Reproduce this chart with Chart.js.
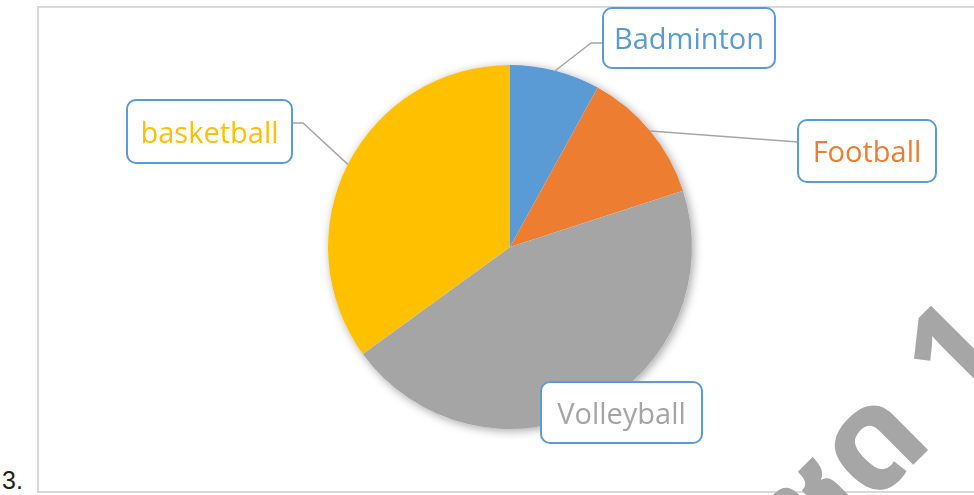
<!DOCTYPE html>
<html>
<head>
<meta charset="utf-8">
<script src="https://cdn.jsdelivr.net/npm/chart.js@4.4.1/dist/chart.umd.min.js"></script>
<style>
  html, body { margin: 0; padding: 0; background: #fff; }
  body { width: 974px; height: 495px; position: relative; overflow: hidden; }
  #frame { position: absolute; left: 37px; top: 6px; width: 960px; height: 483px; border: 2px solid #d9d9d9; }
  #num { position: absolute; left: 2px; top: 468px; font: 25px "Liberation Sans", sans-serif; color: #222; line-height: 25px; }
  #sportChart { position: absolute; left: 0; top: 0; }
</style>
</head>
<body>
<div id="frame"></div>
<div id="num">3.</div>
<canvas id="sportChart" width="974" height="495"></canvas>
<script>
// data (percent share)
const categories = ["Badminton", "Football", "Volleyball", "basketball"];
const shares = [8, 12, 45, 35];
const sliceColors = ["#5b9bd5", "#ed7d31", "#a5a5a5", "#ffc000"];

// callout boxes (layout only)
const calloutBoxes = [
    { x: 603, y: 8, w: 172, h: 60, leader: [[591, 43], [603, 43]] },
    { x: 798, y: 120, w: 138, h: 62, leader: [[798, 142]] },
    { x: 541, y: 382, w: 161, h: 61, leader: null },
    { x: 127, y: 100, w: 165, h: 63, leader: [[303, 123], [292, 123]] }
];

// soft shadow under the pie
const pieShadow = {
    id: "pieShadow",
    beforeDatasetsDraw(chart) {
        const arc = chart.getDatasetMeta(0).data[0];
        const ctx = chart.ctx;
        ctx.save();
        ctx.shadowColor = "rgba(0,0,0,0.35)";
        ctx.shadowBlur = 10;
        ctx.shadowOffsetX = 2;
        ctx.shadowOffsetY = 2;
        ctx.fillStyle = "#fff";
        ctx.beginPath();
        ctx.arc(arc.x, arc.y, arc.outerRadius, 0, Math.PI * 2);
        ctx.fill();
        ctx.restore();
    }
};

// ================= CALLOUT LABELS =================
const callouts = {
    id: "callouts",
    afterDatasetsDraw(chart) {
        const ctx = chart.ctx;
        const meta = chart.getDatasetMeta(0);
        meta.data.forEach((arc, i) => {
            const box = calloutBoxes[i];
            const mid = (arc.startAngle + arc.endAngle) / 2;
            const ex = arc.x + Math.cos(mid) * arc.outerRadius;
            const ey = arc.y + Math.sin(mid) * arc.outerRadius;
            ctx.save();
            if (box.leader) {
                ctx.strokeStyle = "#a6a6a6";
                ctx.lineWidth = 1.5;
                ctx.beginPath();
                ctx.moveTo(ex, ey);
                box.leader.forEach(p => ctx.lineTo(p[0], p[1]));
                ctx.stroke();
            }
            ctx.beginPath();
            ctx.roundRect(box.x, box.y, box.w, box.h, 9);
            ctx.fillStyle = "#fff";
            ctx.fill();
            ctx.lineWidth = 2;
            ctx.strokeStyle = "#5b9bd5";
            ctx.stroke();
            ctx.fillStyle = sliceColors[i];
            ctx.font = "29px 'Open Sans', sans-serif";
            ctx.textAlign = "center";
            ctx.textBaseline = "middle";
            ctx.fillText(chart.data.labels[i], box.x + box.w / 2, box.y + box.h / 2 + 3);
            ctx.restore();
        });
    },
    afterDraw(chart) {
        // watermark
        const ctx = chart.ctx;
        ctx.save();
        ctx.translate(813, 565);
        ctx.rotate(-Math.PI / 4);
        ctx.fillStyle = "#a6a6a6";
        ctx.font = "bold 140px 'Noto Sans Thai', 'Loma', 'Garuda', sans-serif";
        ctx.textBaseline = "alphabetic";
        ctx.fillText("ชุด 1", 0, 0);
        ctx.restore();
    }
};

new Chart(document.getElementById("sportChart"), {
    type: "pie",
    data: {
        labels: categories,
        datasets: [{
            data: shares,
            backgroundColor: sliceColors,
            borderWidth: 0
        }]
    },
    options: {
        responsive: false,
        animation: false,
        layout: { padding: { top: 65, bottom: 66, left: 146, right: 100 } },
        plugins: {
            legend: { display: false },
            tooltip: { enabled: false }
        }
    },
    plugins: [pieShadow, callouts]
});
</script>
</body>
</html>
